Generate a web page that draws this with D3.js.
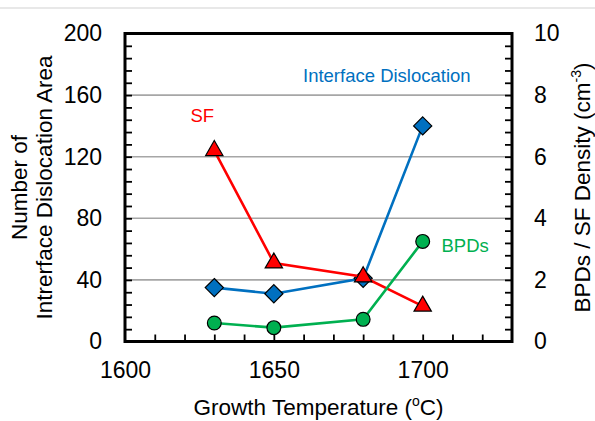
<!DOCTYPE html>
<html>
<head>
<meta charset="utf-8">
<script src="https://cdn.jsdelivr.net/npm/d3@7/dist/d3.min.js"></script>
<style>
  html, body { margin: 0; padding: 0; background: #fff; }
  svg { display: block; }
  text { font-family: "Liberation Sans", Arial, sans-serif; }
</style>
</head>
<body>
<svg id="chart" width="595" height="421"></svg>
<script>
// ---- data ----
const temps = [1630, 1650, 1680, 1700];
const interfaceDislocation = [35, 31, 41, 140];   // left axis
const sfDensity = [6.2, 2.55, 2.1, 1.15];           // right axis
const bpdDensity = [0.6, 0.45, 0.72, 3.25];         // right axis
const xTickLabels = [1600, 1650, 1700];
const yLeftTickLabels = [0, 40, 80, 120, 160, 200];
const yRightTickLabels = [0, 2, 4, 6, 8, 10];
const gridValues = [40, 80, 120, 160];

// ---- layout ----
const svg = d3.select("#chart");
const L = 125, R = 512, T = 33.5, B = 341.5;

const x = d3.scaleLinear().domain([1600, 1730]).range([L, R]);
const yL = d3.scaleLinear().domain([0, 200]).range([B, T]);
const yR = d3.scaleLinear().domain([0, 10]).range([B, T]);

const font = '"Liberation Sans", Arial, sans-serif';

// faint top rule
svg.append("line").attr("x1", 0).attr("x2", 595).attr("y1", 8).attr("y2", 8)
  .attr("stroke", "#e0e0e0").attr("stroke-width", 1.5);

// gridlines
svg.append("g").selectAll("line").data(gridValues).join("line")
  .attr("x1", L).attr("x2", R)
  .attr("y1", d => yL(d)).attr("y2", d => yL(d))
  .attr("stroke", "#a6a6a6").attr("stroke-width", 1.6);

// minor ticks (inward) via axes
const tickStyle = g => {
  g.select(".domain").remove();
  g.selectAll(".tick line").attr("stroke", "#000").attr("stroke-width", 1.8);
};
svg.append("g").attr("transform", `translate(${L},0)`)
  .call(d3.axisLeft(yL).tickValues(d3.range(0, 201, 8)).tickSize(-7).tickFormat(""))
  .call(tickStyle);
svg.append("g").attr("transform", `translate(${R},0)`)
  .call(d3.axisRight(yR).tickValues(d3.range(0, 10.01, 0.4)).tickSize(-7).tickFormat(""))
  .call(tickStyle);
svg.append("g").attr("transform", `translate(0,${B})`)
  .call(d3.axisBottom(x).tickValues(d3.range(1610, 1721, 10)).tickSize(-7).tickFormat(""))
  .call(tickStyle);

// tick labels via axes
const labelStyle = g => {
  g.select(".domain").remove();
  g.selectAll(".tick line").remove();
  g.selectAll(".tick text").attr("font-family", font).attr("font-size", 23).attr("fill", "#000");
};
svg.append("g").attr("transform", `translate(${L},0)`)
  .call(d3.axisLeft(yL).tickValues(yLeftTickLabels).tickSize(0).tickPadding(23).tickFormat(d3.format("d")))
  .call(labelStyle);
svg.append("g").attr("transform", `translate(${R},0)`)
  .call(d3.axisRight(yR).tickValues(yRightTickLabels).tickSize(0).tickPadding(22).tickFormat(d3.format("d")))
  .call(labelStyle);
svg.append("g").attr("transform", `translate(0,${B})`)
  .call(d3.axisBottom(x).tickValues(xTickLabels).tickSize(0).tickPadding(20).tickFormat(d3.format("d")))
  .call(labelStyle);

// plot frame
svg.append("rect").attr("x", L).attr("y", T).attr("width", R - L).attr("height", B - T)
  .attr("fill", "none").attr("stroke", "#000").attr("stroke-width", 3);

// series
const blue = "#0070C0", red = "#FF0000", green = "#00B050";
function drawSeries(vals, yScale, color, symbolType, size) {
  const pts = temps.map((t, i) => [x(t), yScale(vals[i])]);
  svg.append("path").attr("d", d3.line()(pts))
    .attr("fill", "none").attr("stroke", color).attr("stroke-width", 2.6);
  svg.append("g").selectAll("path").data(pts).join("path")
    .attr("transform", d => `translate(${d[0]},${d[1]})`)
    .attr("d", d3.symbol().type(symbolType).size(size))
    .attr("fill", color).attr("stroke", "#000").attr("stroke-width", 1.2);
}
drawSeries(interfaceDislocation, yL, blue, d3.symbolDiamond2, 210);
drawSeries(sfDensity, yR, red, d3.symbolTriangle, 130);
drawSeries(bpdDensity, yR, green, d3.symbolCircle, 150);

// series labels
svg.append("text").attr("x", 303).attr("y", 81.5).attr("font-size", 18.5).attr("fill", blue)
  .text("Interface Dislocation");
svg.append("text").attr("x", 190.5).attr("y", 121.5).attr("font-size", 18.5).attr("fill", red)
  .text("SF");
svg.append("text").attr("x", 441.5).attr("y", 251.5).attr("font-size", 18.5).attr("fill", green)
  .text("BPDs");

// left axis title
const lt = svg.append("text").attr("transform", `translate(27,${(T + B) / 2}) rotate(-90)`)
  .attr("text-anchor", "middle").attr("font-size", 22.5).attr("fill", "#000");
lt.append("tspan").attr("x", 0).attr("dy", 0).text("Number of");
lt.append("tspan").attr("x", 0).attr("dy", 25).text("Intrerface Dislocation Area");

// right axis title
const rt = svg.append("text").attr("transform", `translate(590,${(T + B) / 2}) rotate(-90)`)
  .attr("text-anchor", "middle").attr("font-size", 22.5).attr("fill", "#000");
rt.append("tspan").text("BPDs / SF Density (cm");
rt.append("tspan").attr("font-size", 14).attr("dy", -9).text("-3");
rt.append("tspan").attr("dy", 9).text(")");

// x axis title
const xt = svg.append("text").attr("x", (L + R) / 2).attr("y", 415)
  .attr("text-anchor", "middle").attr("font-size", 22.5).attr("fill", "#000");
xt.append("tspan").text("Growth Temperature (");
xt.append("tspan").attr("font-size", 14).attr("dy", -9).text("o");
xt.append("tspan").attr("dy", 9).text("C)");
</script>
</body>
</html>
